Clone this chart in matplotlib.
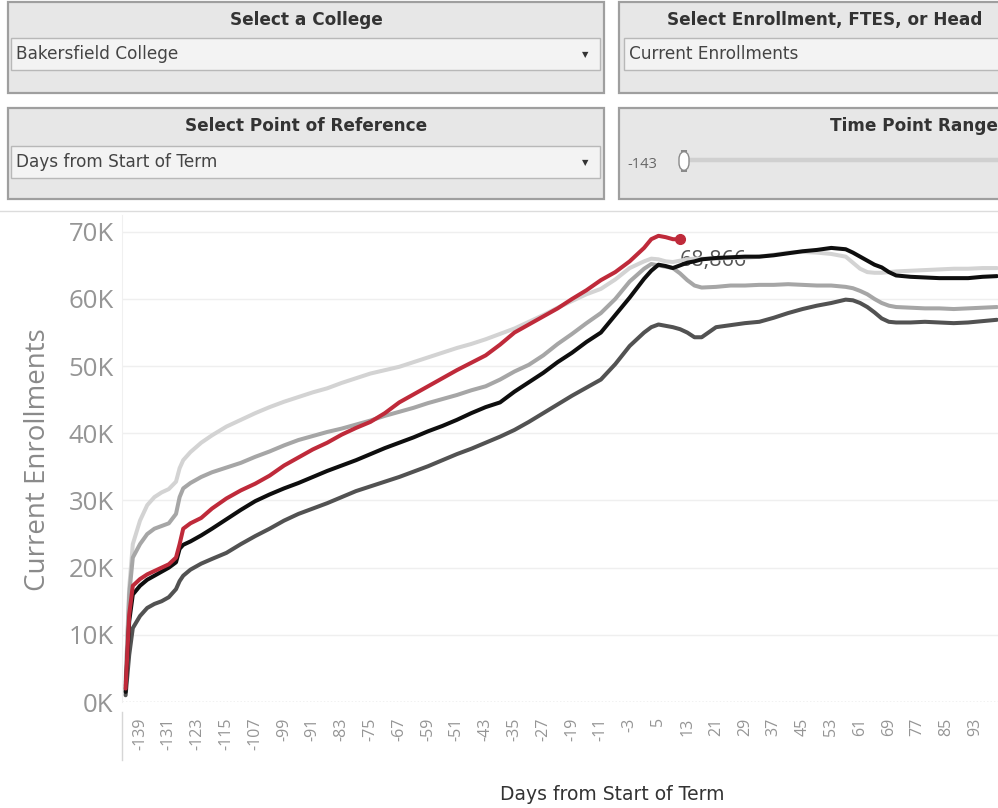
import matplotlib
matplotlib.use("Agg")
import matplotlib.pyplot as plt
from matplotlib.patches import Rectangle, FancyBboxPatch

# days from start of term (sampled), values in thousands of enrollments
days = [-143, -142, -141, -139, -137, -135, -133, -131, -129, -128,
        -127, -125, -122, -119, -115, -111, -107, -103, -99, -95,
        -91, -87, -83, -79, -75, -71, -67, -63, -59, -55,
        -51, -47, -43, -39, -35, -31, -27, -23, -19, -15,
        -11, -7, -3, 1, 3, 5, 7, 9, 11, 13,
        15, 17, 21, 25, 29, 33, 37, 41, 45, 49,
        53, 57, 59, 61, 63, 65, 67, 69, 71, 75,
        79, 83, 87, 91, 95, 99]

term_light = [3.0, 17.0, 23.5, 27.0, 29.3, 30.5, 31.2, 31.7, 32.8, 34.8,
              36.0, 37.2, 38.6, 39.7, 41.0, 42.0, 43.0, 43.9, 44.7, 45.4,
              46.1, 46.7, 47.5, 48.2, 48.9, 49.4, 49.9, 50.6, 51.3, 52.0,
              52.7, 53.3, 54.0, 54.8, 55.6, 56.6, 57.6, 58.7, 59.7, 60.7,
              61.5, 62.9, 64.6, 65.6, 66.0, 65.9, 65.6, 65.5, 65.7, 65.9,
              66.0, 66.0, 66.0, 66.1, 66.1, 66.3, 66.6, 66.9, 67.0, 66.9,
              66.7, 66.3, 65.4, 64.5, 64.0, 63.9, 63.9, 64.0, 64.1, 64.2,
              64.3, 64.4, 64.5, 64.5, 64.6, 64.6]

term_medium = [2.5, 16.0, 21.5, 23.5, 25.0, 25.8, 26.2, 26.6, 28.0, 30.5,
               31.8, 32.6, 33.5, 34.2, 34.9, 35.6, 36.5, 37.3, 38.2, 39.0,
               39.6, 40.2, 40.7, 41.3, 41.9, 42.6, 43.2, 43.8, 44.5, 45.1,
               45.7, 46.4, 47.0, 48.0, 49.2, 50.2, 51.6, 53.3, 54.8, 56.4,
               57.9, 60.0, 62.6, 64.5, 65.2, 65.0, 64.8, 64.6, 63.8, 62.8,
               62.0, 61.7, 61.8, 62.0, 62.0, 62.1, 62.1, 62.2, 62.1, 62.0,
               62.0, 61.8, 61.6, 61.2, 60.7, 60.0, 59.4, 59.0, 58.8, 58.7,
               58.6, 58.6, 58.5, 58.6, 58.7, 58.8]

term_dark = [1.0, 7.0, 11.0, 12.8, 14.0, 14.6, 15.0, 15.6, 16.8, 18.0,
             18.8, 19.7, 20.6, 21.3, 22.2, 23.5, 24.7, 25.8, 27.0, 28.0,
             28.8, 29.6, 30.5, 31.4, 32.1, 32.8, 33.5, 34.3, 35.1, 36.0,
             36.9, 37.7, 38.6, 39.5, 40.5, 41.7, 43.0, 44.3, 45.6, 46.8,
             48.0, 50.3, 53.0, 55.0, 55.8, 56.2, 56.0, 55.8, 55.5, 55.0,
             54.3, 54.3, 55.8, 56.1, 56.4, 56.6, 57.2, 57.9, 58.5, 59.0,
             59.4, 59.9, 59.8, 59.4, 58.8, 58.0, 57.1, 56.6, 56.5, 56.5,
             56.6, 56.5, 56.4, 56.5, 56.7, 56.9]

term_black = [1.5, 12.0, 16.0, 17.3, 18.2, 18.8, 19.4, 20.0, 20.8, 22.8,
              23.4, 23.9, 24.8, 25.8, 27.2, 28.6, 29.9, 30.9, 31.8, 32.6,
              33.5, 34.4, 35.2, 36.0, 36.9, 37.8, 38.6, 39.4, 40.3, 41.1,
              42.0, 43.0, 43.9, 44.6, 46.2, 47.6, 49.0, 50.6, 52.0, 53.6,
              55.0, 57.6, 60.2, 63.0, 64.2, 65.1, 64.9, 64.6, 65.0, 65.4,
              65.6, 65.9, 66.1, 66.2, 66.3, 66.3, 66.5, 66.8, 67.1, 67.3,
              67.6, 67.4, 66.9, 66.3, 65.7, 65.1, 64.7, 64.0, 63.5, 63.3,
              63.2, 63.1, 63.1, 63.1, 63.3, 63.4]

# current term, ends at day 11
term_current = [2.0, 13.0, 17.3, 18.3, 19.0, 19.5, 20.0, 20.5, 21.5, 23.5,
                25.8, 26.6, 27.4, 28.8, 30.3, 31.5, 32.5, 33.7, 35.2, 36.4,
                37.6, 38.6, 39.8, 40.8, 41.7, 43.0, 44.6, 45.8, 47.0, 48.2,
                49.4, 50.5, 51.6, 53.2, 55.0, 56.2, 57.4, 58.6, 60.0, 61.3,
                62.8, 64.0, 65.6, 67.6, 68.9, 69.4, 69.2, 68.9, 68.866]

x_ticks = list(range(-139, 94, 8))
y_ticks = [0, 10, 20, 30, 40, 50, 60, 70]

W, H = 998, 808
AXFONT = ["Open Sans", "DejaVu Sans"]
UIFONT = ["DejaVu Sans"]

fig = plt.figure(figsize=(W / 100, H / 100), dpi=100)
fig.patch.set_facecolor("white")

# ---- dashboard controls drawn in pixel coords
ui = fig.add_axes([0, 0, 1, 1])
ui.set_xlim(0, W)
ui.set_ylim(H, 0)
ui.axis("off")


def control(x0, x1, y0, title, title_x=None, title_ha="center"):
    ui.add_patch(Rectangle((x0, y0), x1 - x0, 91, facecolor="#e7e7e7",
                           edgecolor="#9f9f9f", lw=1.6))
    tx = (x0 + x1) / 2 if title_x is None else title_x
    ui.text(tx, y0 + 18, title, ha=title_ha, va="center", fontsize=12.2,
            fontweight="bold", color="#333333", family=UIFONT)


def dropdown(x0, x1, y0, label, arrow=True):
    ui.add_patch(Rectangle((x0, y0), x1 - x0, 32, facecolor="#f3f3f3",
                           edgecolor="#b8b8b8", lw=1.0))
    ui.text(x0 + 5, y0 + 16, label, ha="left", va="center", fontsize=12.2,
            color="#444444", family=UIFONT)
    if arrow:
        ui.text(x1 - 15, y0 + 17, "\u25BC", ha="center", va="center",
                fontsize=6, color="#333333", family=UIFONT)


control(8, 604, 2, "Select a College")
dropdown(11, 600, 38, "Bakersfield College")
# right-hand panels are cut off by the screenshot edge
control(619, 1010, 2, "Select Enrollment, FTES, or Head", title_x=667, title_ha="left")
dropdown(624, 1010, 38, "Current Enrollments", arrow=False)
control(8, 604, 108, "Select Point of Reference")
dropdown(11, 600, 146, "Days from Start of Term")
control(619, 1010, 108, "Time Point Range", title_x=830, title_ha="left")
ui.text(627, 164, "-143", ha="left", va="center", fontsize=10.5, color="#666666", family=AXFONT)
ui.plot([688, 1000], [160, 160], color="#d0d0d0", lw=3.2, solid_capstyle="butt")
ui.add_patch(FancyBboxPatch((679, 151), 10, 20, boxstyle="round,pad=0,rounding_size=8",
                            facecolor="white", edgecolor="#8a8a8a", lw=1.0, zorder=3))

ui.plot([0, W], [211, 211], color="#dcdcdc", lw=1.0)
ui.plot([122, 122], [712, 760], color="#d6d6d6", lw=1.0)

ui.text(38, 460, "Current Enrollments", rotation=90, ha="center", va="center",
        fontsize=20, color="#8a8a8a", family=AXFONT)
ui.text(612, 795, "Days from Start of Term", ha="center", va="center",
        fontsize=13.5, color="#333333", family=UIFONT)

# ---- line chart
ax = fig.add_axes([122 / W, (H - 702) / H, 876 / W, (702 - 215) / H])
ax.set_facecolor("none")
ax.set_xlim(-144, 99.3)
ax.set_ylim(0, 72.5)

for y in y_ticks[1:]:
    ax.axhline(y, color="#efefef", lw=1.0, zorder=0)
ax.axhline(0, color="#bbbbbb", lw=1.0, ls=(0, (1, 1.5)), zorder=0)

series = [
    (term_light, "#d3d3d3"),
    (term_medium, "#a6a6a6"),
    (term_dark, "#525252"),
    (term_black, "#0e0e0e"),
]
for vals, col in series:
    ax.plot(days, vals, color=col, lw=2.9, solid_joinstyle="round",
            solid_capstyle="round", zorder=3)

cur_days = days[:len(term_current)]
ax.plot(cur_days, term_current, color="#bf2a3a", lw=2.9,
        solid_joinstyle="round", solid_capstyle="round", zorder=4)
ax.plot(cur_days[-1], term_current[-1], "o", color="#bf2a3a", ms=7, zorder=4)
ax.text(cur_days[-1], term_current[-1] - 3.1, f"{round(term_current[-1] * 1000):,}",
        ha="left", va="center", fontsize=15.5, color="#555555", family=AXFONT, zorder=2)

ax.set_yticks(y_ticks)
ax.set_yticklabels([f"{v}K" for v in y_ticks], fontsize=18.5, color="#959595", family=AXFONT)
ax.set_xticks(x_ticks)
ax.set_xticklabels([str(d) for d in x_ticks], rotation=90, fontsize=11.5,
                   color="#959595", family=AXFONT)
ax.tick_params(axis="x", length=0, pad=11)
ax.tick_params(axis="y", length=0, pad=6)
for s in ax.spines.values():
    s.set_visible(False)
ax.spines["left"].set_visible(True)
ax.spines["left"].set_color("#f0f0f0")

fig.savefig("out.png", dpi=100)
